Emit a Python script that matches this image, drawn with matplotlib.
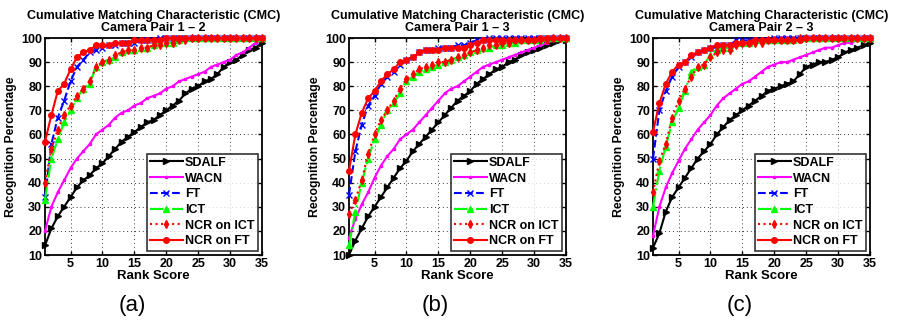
import matplotlib
matplotlib.use("Agg")
import matplotlib.pyplot as plt
import numpy as np

plt.rcParams["font.family"] = ["Liberation Sans", "DejaVu Sans"]

# ============================================================
# CMC curves, rank 1..35
# ============================================================
ranks = np.arange(1, 36)

series_names = ["SDALF", "WACN", "FT", "ICT", "NCR on ICT", "NCR on FT"]
pair_titles = ["Camera Pair 1 \u2013 2", "Camera Pair 1 \u2013 3", "Camera Pair 2 \u2013 3"]
captions = ["(a)", "(b)", "(c)"]

# --- pair 1-2 ---
sdalf_12 = [14, 21, 26, 30, 34, 38, 41, 43, 46, 48, 51, 54, 57, 59, 61, 63, 65, 66, 68, 70,
            72, 74, 77, 79, 80, 82, 83, 85, 88, 90, 91, 93, 95, 96, 98]
wacn_12 = [20, 30, 36, 41, 46, 50, 53, 56, 60, 62, 64, 67, 69, 70, 72, 73, 75, 76, 77, 79,
           80, 82, 83, 84, 85, 86, 88, 89, 90, 91, 93, 94, 96, 98, 99]
ft_12 = [34, 56, 67, 74, 82, 88, 91, 94, 95, 96, 97, 97, 98, 98, 98, 99, 99, 99, 100, 100,
         100, 100, 100, 100, 100, 100, 100, 100, 100, 100, 100, 100, 100, 100, 100]
ict_12 = [33, 50, 58, 65, 70, 75, 79, 81, 88, 90, 91, 92, 94, 95, 95, 96, 96, 97, 98, 98,
          98, 99, 100, 100, 100, 100, 100, 100, 100, 100, 100, 100, 100, 100, 100]
ncr_ict_12 = [40, 54, 62, 68, 72, 76, 79, 82, 88, 90, 91, 93, 94, 95, 95, 96, 96, 97, 97, 98,
              98, 99, 99, 100, 100, 100, 100, 100, 100, 100, 100, 100, 100, 100, 100]
ncr_ft_12 = [57, 68, 78, 81, 87, 92, 94, 95, 97, 97, 97, 98, 98, 98, 99, 99, 99, 99, 99, 100,
             100, 100, 100, 100, 100, 100, 100, 100, 100, 100, 100, 100, 100, 100, 100]

# --- pair 1-3 ---
sdalf_13 = [10, 16, 21, 26, 30, 34, 38, 42, 46, 49, 53, 56, 59, 62, 65, 68, 71, 74, 76, 78,
            81, 83, 85, 87, 88, 90, 91, 93, 94, 95, 96, 97, 98, 99, 99]
wacn_13 = [17, 25, 31, 36, 42, 47, 51, 54, 58, 60, 62, 65, 68, 71, 74, 77, 79, 80, 82, 84,
           86, 88, 89, 90, 91, 92, 93, 94, 95, 96, 97, 98, 99, 99, 100]
ft_13 = [35, 53, 64, 72, 76, 81, 84, 86, 89, 91, 92, 94, 95, 95, 96, 96, 96, 97, 97, 98,
         99, 99, 100, 100, 100, 100, 100, 100, 100, 100, 100, 100, 100, 100, 100]
ict_13 = [14, 28, 40, 50, 58, 64, 70, 73, 77, 82, 84, 86, 87, 88, 89, 90, 91, 92, 93, 94,
          95, 96, 96, 97, 97, 98, 98, 99, 99, 99, 99, 100, 100, 100, 100]
ncr_ict_13 = [27, 33, 41, 52, 60, 66, 70, 74, 79, 83, 85, 87, 88, 89, 90, 90, 91, 92, 93, 94,
              95, 96, 97, 97, 98, 98, 99, 99, 99, 99, 99, 99, 100, 100, 100]
ncr_ft_13 = [45, 60, 69, 75, 78, 82, 85, 87, 90, 91, 92, 94, 95, 95, 95, 96, 96, 96, 96, 97,
             98, 99, 99, 99, 99, 99, 99, 99, 99, 99, 100, 100, 100, 100, 100]

# --- pair 2-3 ---
sdalf_23 = [13, 19, 28, 34, 38, 42, 46, 50, 53, 56, 60, 63, 66, 68, 70, 72, 74, 76, 78, 79,
            80, 81, 82, 85, 88, 89, 90, 90, 91, 92, 94, 95, 96, 97, 98]
wacn_23 = [18, 30, 38, 44, 49, 54, 58, 62, 65, 68, 72, 75, 77, 79, 81, 82, 84, 86, 88, 89,
           90, 90, 91, 92, 93, 94, 95, 96, 96, 97, 98, 98, 99, 99, 100]
ft_23 = [50, 70, 78, 84, 88, 90, 92, 94, 95, 96, 96, 97, 97, 99, 99, 99, 99, 99, 99, 100,
         100, 100, 100, 100, 100, 100, 100, 100, 100, 100, 100, 100, 100, 100, 100]
ict_23 = [30, 45, 55, 65, 71, 78, 86, 88, 89, 93, 95, 96, 96, 98, 98, 98, 99, 99, 99, 99,
          99, 99, 99, 100, 100, 100, 100, 100, 100, 100, 100, 100, 100, 100, 100]
ncr_ict_23 = [36, 49, 56, 67, 74, 79, 84, 88, 89, 92, 94, 95, 95, 97, 98, 98, 98, 98, 99, 99,
              99, 99, 99, 100, 100, 100, 100, 100, 100, 100, 100, 100, 100, 100, 100]
ncr_ft_23 = [61, 73, 81, 86, 89, 90, 93, 94, 95, 96, 97, 97, 97, 98, 98, 98, 99, 99, 99, 99,
             99, 99, 99, 99, 100, 100, 100, 100, 100, 100, 100, 100, 100, 100, 100]

panels = [
    [sdalf_12, wacn_12, ft_12, ict_12, ncr_ict_12, ncr_ft_12],
    [sdalf_13, wacn_13, ft_13, ict_13, ncr_ict_13, ncr_ft_13],
    [sdalf_23, wacn_23, ft_23, ict_23, ncr_ict_23, ncr_ft_23],
]

# color, linestyle, marker, markersize
styles = [
    ("k", "-", ">", 4.5),
    ("#ff00ff", "-", "s", 2.0),
    ("#0000ff", "--", "x", 5),
    ("#00ff00", "-.", "^", 5),
    ("#ff0000", ":", "d", 4),
    ("#ff0000", "-", "o", 4),
]

# ============================================================
# Plot
# ============================================================
W, H = 897, 329
fig = plt.figure(figsize=(W / 100, H / 100), dpi=100)

ax_left = [45, 349, 653]
ax_w = 217
ax_top, ax_bot = 38, 255
caption_x = [132, 435, 740]

for i, data in enumerate(panels):
    ax = fig.add_axes([ax_left[i] / W, 1 - ax_bot / H, ax_w / W, (ax_bot - ax_top) / H])
    for name, vals, (c, ls, mk, ms) in zip(series_names, data, styles):
        ax.plot(ranks, vals, color=c, linestyle=ls, marker=mk, markersize=ms,
                markerfacecolor=c, markeredgecolor=c, linewidth=1.5, label=name,
                clip_on=False, zorder=3)
    ax.set_xlim(1, 35)
    ax.set_ylim(10, 100)
    ax.set_xticks([5, 10, 15, 20, 25, 30, 35])
    ax.set_yticks(range(10, 101, 10))
    ax.grid(True, color="k", linestyle=(0, (1, 3)), linewidth=0.7, alpha=0.8)
    ax.tick_params(direction="in", top=True, right=True, length=3, width=1,
                   labelsize=9, pad=2)
    for lab in ax.get_xticklabels() + ax.get_yticklabels():
        lab.set_fontweight("bold")
    for sp in ax.spines.values():
        sp.set_linewidth(1.3)
    ax.set_title("Cumulative Matching Characteristic (CMC)\n" + pair_titles[i],
                 fontsize=9, fontweight="bold", pad=5, linespacing=1.0)
    ax.set_xlabel("Rank Score", fontsize=9.5, fontweight="bold", labelpad=0)
    ax.set_ylabel("Recognition Percentage", fontsize=8.8, fontweight="bold", labelpad=3)
    leg = ax.legend(loc="lower right", prop={"weight": "bold", "size": 9},
                    frameon=True, fancybox=False, edgecolor="k", borderpad=0.25,
                    labelspacing=0.3, handlelength=2.6, handletextpad=0.2,
                    borderaxespad=0.35)
    leg.get_frame().set_linewidth(1.2)
    fig.text(caption_x[i] / W, 1 - 306 / H, captions[i], fontsize=16,
             ha="center", va="center")

fig.savefig("out.png", dpi=100)
